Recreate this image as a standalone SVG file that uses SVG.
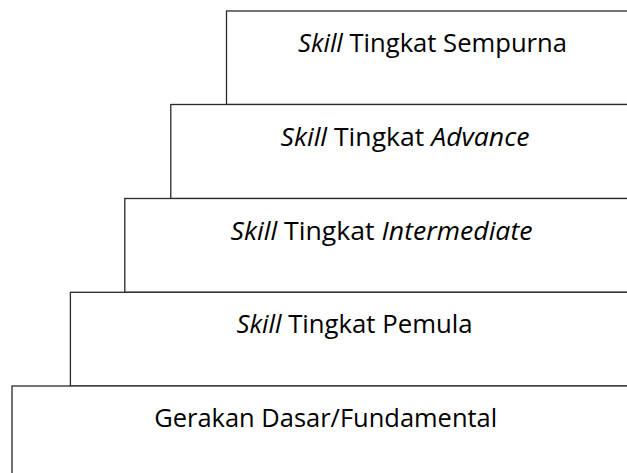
<svg xmlns="http://www.w3.org/2000/svg" width="627" height="473" viewBox="0 0 627 473">
<style>
.box{fill:#fff;stroke:#2a2a2a;stroke-width:1.3}
.lbl{font-family:"Open Sans","Noto Sans",sans-serif;font-size:25.5px;fill:#000;text-anchor:middle}
.it{font-style:italic}
</style>
<rect width="627" height="473" fill="#fff"/>
<g id="connectors"></g>
<g id="node-sempurna">
<rect class="box" x="226.5" y="11" width="420" height="93.5"/>
<text class="lbl" x="432.5" y="52" textLength="269" lengthAdjust="spacingAndGlyphs"><tspan class="it">Skill</tspan> Tingkat Sempurna</text>
</g>
<g id="node-advance">
<rect class="box" x="170.8" y="104.5" width="480" height="94"/>
<text class="lbl" x="405" y="146" textLength="249" lengthAdjust="spacingAndGlyphs"><tspan class="it">Skill</tspan> Tingkat <tspan class="it">Advance</tspan></text>
</g>
<g id="node-intermediate">
<rect class="box" x="124.8" y="198.5" width="520" height="93.8"/>
<text class="lbl" x="381.5" y="240" textLength="302" lengthAdjust="spacingAndGlyphs"><tspan class="it">Skill</tspan> Tingkat <tspan class="it">Intermediate</tspan></text>
</g>
<g id="node-pemula">
<rect class="box" x="70.4" y="292.3" width="580" height="93.7"/>
<text class="lbl" x="354.5" y="333" textLength="236" lengthAdjust="spacingAndGlyphs"><tspan class="it">Skill</tspan> Tingkat Pemula</text>
</g>
<g id="node-dasar">
<rect class="box" x="12" y="386" width="640" height="100"/>
<text class="lbl" x="325.7" y="427" textLength="343" lengthAdjust="spacingAndGlyphs">Gerakan Dasar/Fundamental</text>
</g>
</svg>
